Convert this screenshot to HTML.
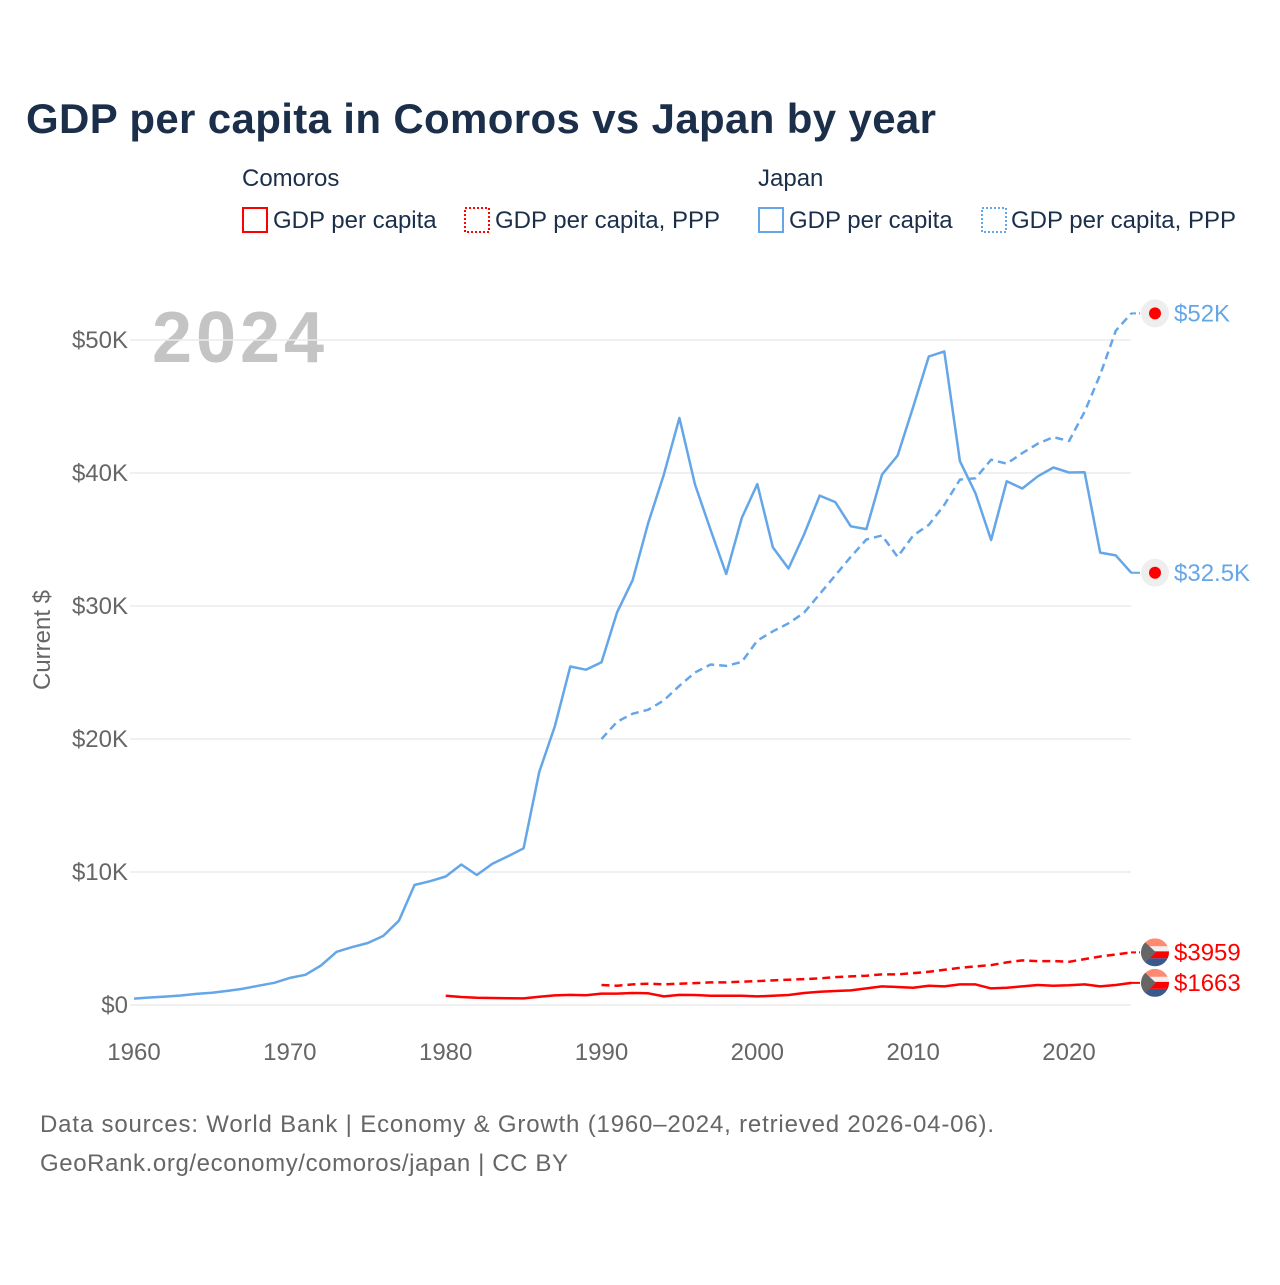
<!DOCTYPE html>
<html><head><meta charset="utf-8"><style>
body{margin:0;background:#fff;font-family:"Liberation Sans",sans-serif;}
svg text{font-family:"Liberation Sans",sans-serif;}
</style></head><body>
<svg width="1280" height="1280" viewBox="0 0 1280 1280" xmlns="http://www.w3.org/2000/svg">
<defs id="defs"></defs>
<text x="26" y="133" font-size="42" font-weight="bold" fill="#1b2f4b" textLength="910">GDP per capita in Comoros vs Japan by year</text>
<g>
<text x="242" y="186" font-size="24" fill="#1b2f4b">Comoros</text>
<text x="758" y="186" font-size="24" fill="#1b2f4b">Japan</text>
<g><rect x="243" y="208" width="24" height="24" fill="none" stroke="#f00" stroke-width="2"/><text x="273" y="228" font-size="24" fill="#1b2f4b">GDP per capita</text></g>
<g><rect x="465" y="208" width="24" height="24" fill="none" stroke="#f00" stroke-width="2" stroke-dasharray="2,2"/><text x="495" y="228" font-size="24" fill="#1b2f4b">GDP per capita, PPP</text></g>
<g><rect x="759" y="208" width="24" height="24" fill="none" stroke="#64a6e8" stroke-width="2"/><text x="789" y="228" font-size="24" fill="#1b2f4b">GDP per capita</text></g>
<g><rect x="982" y="208" width="24" height="24" fill="none" stroke="#64a6e8" stroke-width="2" stroke-dasharray="2,2"/><text x="1011" y="228" font-size="24" fill="#1b2f4b">GDP per capita, PPP</text></g>
</g>
<text x="152" y="362" font-size="72" font-weight="bold" fill="#c4c4c4" textLength="172">2024</text>
<text transform="translate(50,640) rotate(-90)" text-anchor="middle" font-size="24" fill="#666">Current $</text>
<g id="grid"></g><g id="series"></g><g id="ends"></g>
<text x="40" y="1132" font-size="24" fill="#666" textLength="954">Data sources: World Bank | Economy &amp; Growth (1960–2024, retrieved 2026-04-06).</text>
<text x="40" y="1171" font-size="24" fill="#666" textLength="528">GeoRank.org/economy/comoros/japan | CC BY</text>
</svg>
<script>
const yTicks=[0,10000,20000,30000,40000,50000];
const yTickLabels=["$0","$10K","$20K","$30K","$40K","$50K"];
const xTicks=[1960,1970,1980,1990,2000,2010,2020];
const japanStart=1960;
const japanGdp=[479,564,634,718,835,919,1058,1228,1451,1669,2037,2272,2967,3997,4354,4659,5197,6335,9021,9305,9663,10561,9778,10625,11184,11784,17511,20945,25451,25213,25771,29525,31964,36266,39869,44140,39137,35722,32403,36627,39169,34406,32820,35387,38299,37813,35991,35779,39876,41309,44968,48760,49145,40898,38475,34961,39375,38834,39751,40416,40040,40059,34017,33806,32500];
const japanPppStart=1990;
const japanPpp=[20000,21300,21900,22200,22900,24000,25000,25600,25500,25800,27400,28100,28700,29500,30900,32300,33700,35000,35300,33700,35300,36100,37600,39500,39600,41000,40700,41500,42200,42700,42400,44600,47400,50700,52000];
const comStart=1980;
const comGdp=[700,600,550,530,510,500,620,720,760,740,860,860,900,880,650,760,750,700,700,700,650,700,750,900,1000,1050,1100,1250,1400,1350,1300,1450,1400,1550,1550,1250,1300,1400,1500,1450,1480,1550,1400,1500,1663];
const comPppStart=1990;
const comPpp=[1500,1450,1550,1600,1550,1600,1650,1700,1700,1750,1800,1850,1900,1950,2000,2100,2150,2200,2300,2300,2400,2500,2650,2800,2900,3000,3200,3350,3300,3300,3250,3450,3650,3800,3959];
const endLabels=["$52K","$32.5K","$3959","$1663"];
const NS="http://www.w3.org/2000/svg";
const X=y=>134+(y-1960)*(935/60);
const Y=v=>1005-v*(665/50000);
function mk(t,a,p){const e=document.createElementNS(NS,t);for(const k in a)e.setAttribute(k,a[k]);p.appendChild(e);return e;}
const grid=document.getElementById('grid');
yTicks.forEach((v,i)=>{
 const l=mk('line',{x1:130,x2:1131,y1:Y(v),y2:Y(v),stroke:'#ebebeb','stroke-width':1.5},grid);
 
 
 const t=mk('text',{x:128,y:Y(v)+8,'text-anchor':'end','font-size':24,fill:'#666'},grid);t.textContent=yTickLabels[i];
 
 
});
xTicks.forEach(v=>{
 const t=mk('text',{x:X(v),y:1060,'text-anchor':'middle','font-size':24,fill:'#666'},grid);t.textContent=v;
 
 
});
const ser=document.getElementById('series');
function line(arr,start,color,dash,name){
 const d=arr.map((v,i)=>(i?'L':'M')+X(start+i).toFixed(1)+','+Y(v).toFixed(1)).join('');
 const p=mk('path',{d:d,fill:'none',stroke:color,'stroke-width':2.5,'stroke-dasharray':dash||'none','stroke-linejoin':'round'},ser);
 
 
}
line(japanGdp,japanStart,'#64a6e8',null,'japan-gdp-line');
line(japanPpp,japanPppStart,'#64a6e8','8,5','japan-ppp-line');
line(comGdp,comStart,'#ff0000',null,'comoros-gdp-line');
line(comPpp,comPppStart,'#ff0000','8,5','comoros-ppp-line');
const ends=document.getElementById('ends');
const defs=document.getElementById('defs');
const endVals=[japanPpp[japanPpp.length-1],japanGdp[japanGdp.length-1],comPpp[comPpp.length-1],comGdp[comGdp.length-1]];
const endColors=['#64a6e8','#64a6e8','#ff0000','#ff0000'];
endVals.forEach((v,i)=>{
 const y=Y(v),g=mk('g',{},ends);
 
 
 mk('line',{x1:1131,x2:1140,y1:y,y2:y,stroke:endColors[i],'stroke-width':2,'stroke-dasharray':i%2?'none':'5,3'},g);
 if(i<2){mk('circle',{cx:1155,cy:y,r:14,fill:'#eee'},g);mk('circle',{cx:1155,cy:y,r:6,fill:'#f00'},g);}
 else{
  const cp=mk('clipPath',{id:'fc'+i},defs);mk('circle',{cx:1155,cy:y,r:14},cp);
  const f=mk('g',{'clip-path':'url(#fc'+i+')'},g);
  mk('rect',{x:1141,y:y-14,width:28,height:8,fill:'#ff8a70'},f);
  mk('rect',{x:1141,y:y-6,width:28,height:5,fill:'#f0f0f0'},f);
  mk('rect',{x:1141,y:y-1,width:28,height:7,fill:'#f00'},f);
  mk('rect',{x:1141,y:y+6,width:28,height:8,fill:'#3a5a8c'},f);
  mk('path',{d:`M1141,${y-14}L1156,${y}L1141,${y+14}Z`,fill:'#666'},f);
 }
 const t=mk('text',{x:1174,y:y+8,'font-size':24,fill:endColors[i]},g);t.textContent=endLabels[i];
});
</script>
</body></html>
